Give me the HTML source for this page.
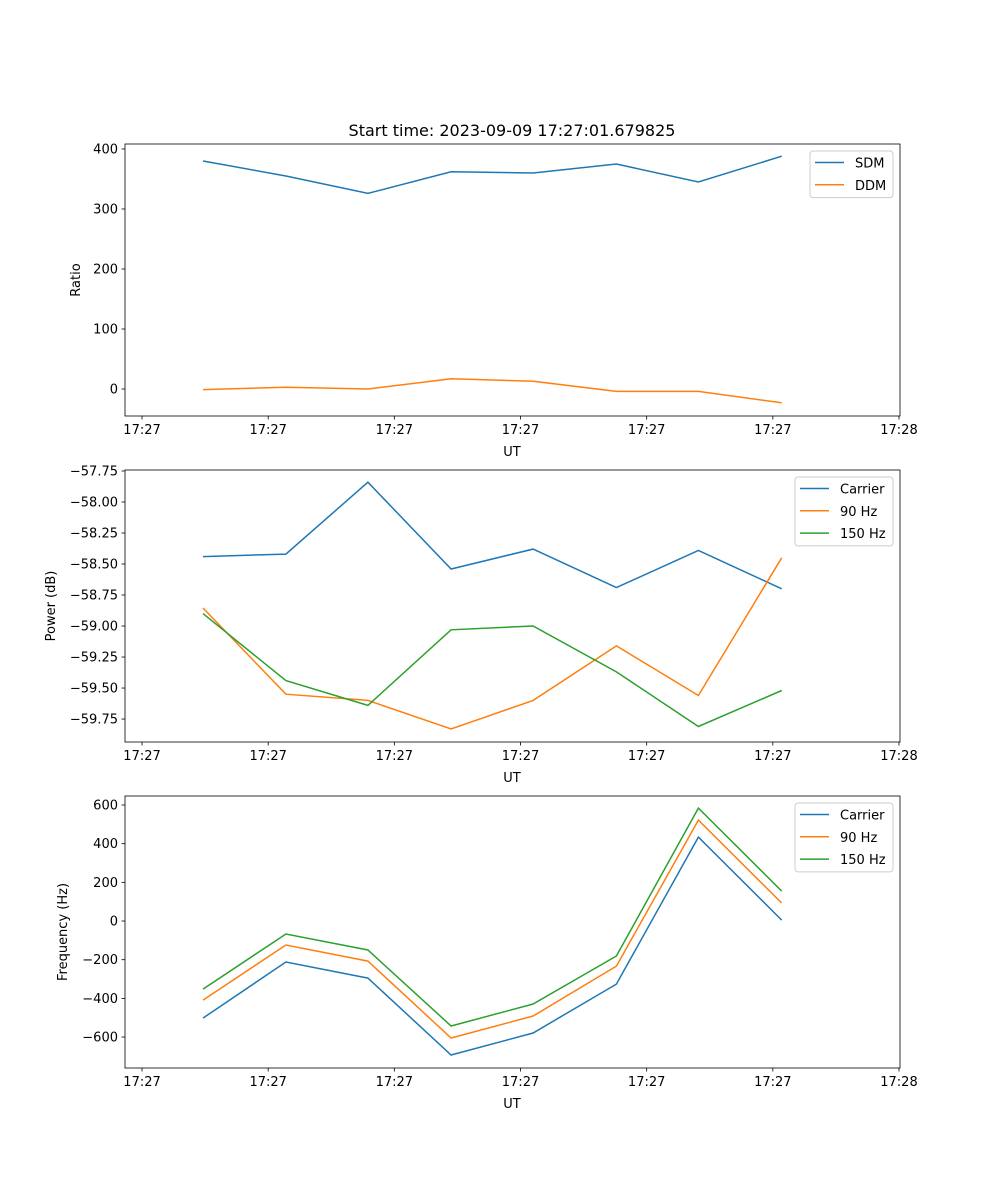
<!DOCTYPE html>
<html><head><meta charset="utf-8"><style>
html,body{margin:0;padding:0;background:#fff;}
svg{display:block;font-family:"DejaVu Sans","Liberation Sans",sans-serif;}
</style></head><body>
<svg id="fig" width="1000" height="1200" xmlns="http://www.w3.org/2000/svg">
<text x="512" y="136" font-size="16" text-anchor="middle">Start time: 2023-09-09 17:27:01.679825</text>
</svg>
<script>
const times = [4.83, 11.4, 17.9, 24.5, 31.0, 37.6, 44.1, 50.7];
const xTickVals = [0, 10, 20, 30, 40, 50, 60];
const xTickLabels = ["17:27","17:27","17:27","17:27","17:27","17:27","17:28"];
const sdm = [380, 355, 326, 362, 360, 375, 345, 388];
const ddm = [-1, 3, 0, 17, 13, -4, -4, -23];
const powCarrier = [-58.44, -58.42, -57.84, -58.54, -58.38, -58.69, -58.39, -58.70];
const pow90 = [-58.855, -59.55, -59.60, -59.83, -59.60, -59.16, -59.56, -58.45];
const pow150 = [-58.90, -59.44, -59.64, -59.03, -59.00, -59.37, -59.81, -59.52];
const freqCarrier = [-502, -212, -295, -693, -579, -326, 434, 5];
const freq90 = [-409, -124, -207, -605, -491, -233, 522, 93];
const freq150 = [-352, -67, -150, -543, -429, -181, 584, 155];
const ratioTicks = [0, 100, 200, 300, 400];
const powTicks = [-59.75, -59.5, -59.25, -59.0, -58.75, -58.5, -58.25, -58.0, -57.75];
const freqTicks = [-600, -400, -200, 0, 200, 400, 600];

const NS = "http://www.w3.org/2000/svg";
const svg = document.getElementById('fig');
const L = 125, R = 900, xMin = -1.35, xMax = 60.08;
function xs(t){ return L + (t - xMin) / (xMax - xMin) * (R - L); }
function mk(tag, attrs, parent){ const e = document.createElementNS(NS, tag); for (const k in attrs) e.setAttribute(k, attrs[k]); (parent||svg).appendChild(e); return e; }
const C = ["#1f77b4", "#ff7f0e", "#2ca02c"];

function panel(id, top, bot, yMin, yMax, yTicks, fmt, ylabel, series, names, legW){
  const g = mk('g', {});
  
  
  const ys = v => bot - (v - yMin) / (yMax - yMin) * (bot - top);
  series.forEach((s, i) => {
    const p = mk('polyline', {points: s.map((v, j) => xs(times[j]).toFixed(1) + ',' + ys(v).toFixed(1)).join(' '), fill: 'none', stroke: C[i], 'stroke-width': 1.5}, g);
    
    
  });
  const fr = mk('rect', {x: L, y: top, width: R - L, height: bot - top, fill: 'none', stroke: '#000', 'stroke-width': 0.8}, g);
  
  
  xTickVals.forEach((t, i) => {
    const x = xs(t);
    mk('line', {x1: x, x2: x, y1: bot, y2: bot + 3.5, stroke: '#000', 'stroke-width': 0.8}, g);
    const tx = mk('text', {x: x, y: bot + 18, 'font-size': 13, 'text-anchor': 'middle'}, g);
    tx.textContent = xTickLabels[i];
    
    
  });
  yTicks.forEach(v => {
    const y = ys(v);
    mk('line', {x1: L - 3.5, x2: L, y1: y, y2: y, stroke: '#000', 'stroke-width': 0.8}, g);
    const tx = mk('text', {x: L - 7, y: y + 4.5, 'font-size': 13, 'text-anchor': 'end'}, g);
    tx.textContent = fmt(v);
    
    
  });
  const xl = mk('text', {x: 512, y: bot + 40, 'font-size': 13, 'text-anchor': 'middle'}, g);
  xl.textContent = 'UT';
  
  
  const cy = (top + bot) / 2;
  const yl = mk('text', {x: 0, y: 0, 'font-size': 13, 'text-anchor': 'middle', transform: 'translate(' + (id === 'ratio' ? 80 : (id === 'power' ? 55 : 67)) + ',' + cy + ') rotate(-90)'}, g);
  yl.textContent = ylabel;
  
  
  const lg = mk('g', {}, g);
  
  
  const lx = 893 - legW, ly = top + 7;
  mk('rect', {x: lx, y: ly, width: legW, height: 2 + 22.3 * names.length, rx: 3, fill: '#fff', 'fill-opacity': 0.8, stroke: '#ccc', 'stroke-width': 1}, lg);
  names.forEach((n, i) => {
    const y = ly + 11.5 + 22.3 * i;
    const e = mk('g', {}, lg);
    
    
    mk('line', {x1: lx + 5, x2: lx + 34, y1: y, y2: y, stroke: C[i], 'stroke-width': 1.5}, e);
    const t = mk('text', {x: lx + 45, y: y + 5, 'font-size': 13}, e);
    t.textContent = n;
  });
}
panel('ratio', 144, 416, -45, 408.3, ratioTicks, v => String(v), 'Ratio', [sdm, ddm], ['SDM', 'DDM'], 83);
panel('power', 470, 742, -59.935, -57.742, powTicks, v => '\u2212' + Math.abs(v).toFixed(2), 'Power (dB)', [powCarrier, pow90, pow150], ['Carrier', '90 Hz', '150 Hz'], 98);
panel('frequency', 796, 1068, -760, 646.5, freqTicks, v => (v < 0 ? '\u2212' : '') + Math.abs(v), 'Frequency (Hz)', [freqCarrier, freq90, freq150], ['Carrier', '90 Hz', '150 Hz'], 98);
</script>
</body></html>
